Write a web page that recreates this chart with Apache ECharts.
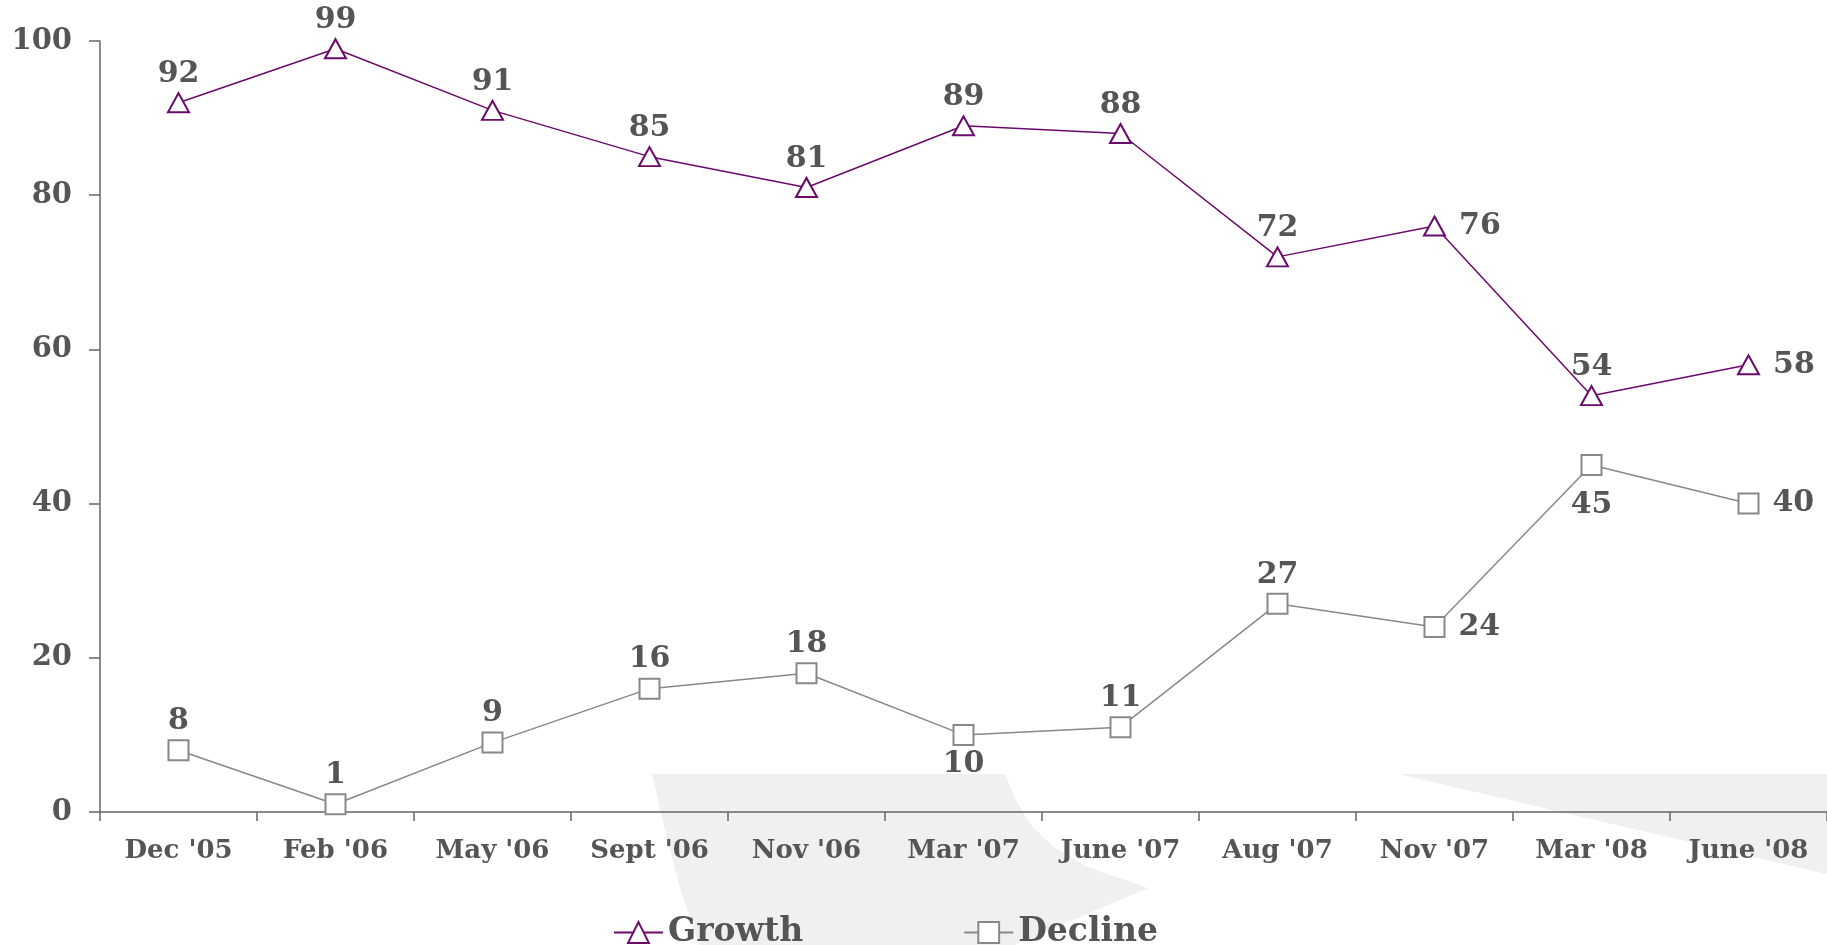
<!DOCTYPE html>
<html>
<head>
<meta charset="utf-8">
<script src="https://cdn.jsdelivr.net/npm/echarts@6/dist/echarts.min.js"></script>
<style>
  html, body { margin: 0; padding: 0; background: #fff; }
  #chart { width: 1827px; height: 945px; }
</style>
</head>
<body>
<div id="chart"></div>
<script>
// data
var categories = ["Dec '05", "Feb '06", "May '06", "Sept '06", "Nov '06", "Mar '07",
  "June '07", "Aug '07", "Nov '07", "Mar '08", "June '08"];
var growth = [92, 99, 91, 85, 81, 89, 88, 72, 76, 54, 58];
var decline = [8, 1, 9, 16, 18, 10, 11, 27, 24, 45, 40];
// where each value label sits
var growthLabelPos = ['top', 'top', 'top', 'top', 'top', 'top', 'top', 'top', 'right', 'top', 'right'];
var declineLabelPos = ['top', 'top', 'top', 'top', 'top', 'bottom', 'top', 'top', 'right', 'bottom', 'right'];
var yTicks = [0, 20, 40, 60, 80, 100];

var FONT = '"DejaVu Serif", "Liberation Serif", serif';
var TEXT = '#555555';

function withLabels(values, positions) {
  return values.map(function (v, i) {
    var pos = positions[i];
    var dist = pos === 'right' ? 13 : 3;
    // the last "below" label sits a little lower in the original
    if (pos === 'bottom' && i > 5) dist = 14;
    return { value: v, label: { position: pos, distance: dist } };
  });
}

var chartDom = document.getElementById('chart');
var myChart = echarts.init(chartDom);

var option = {
  animation: false,
  backgroundColor: '#ffffff',
  textStyle: { fontFamily: FONT },
  // light grey watermark shapes behind the plot
  graphic: [
    {
      type: 'polygon',
      z: -1,
      silent: true,
      shape: {
        points: [[652, 774], [1005, 774], [1016, 800], [1030, 824], [1052, 846],
          [1085, 866], [1148, 888], [1015, 945], [699, 945], [680, 888], [665, 830]]
      },
      style: { fill: '#f0f0f0' }
    },
    {
      type: 'polygon',
      z: -1,
      silent: true,
      shape: { points: [[1398, 774], [1827, 774], [1827, 874]] },
      style: { fill: '#f0f0f0' }
    }
  ],
  grid: {
    left: 100,
    right: 0,
    top: 41,
    bottom: 133,
    containLabel: false,
    outerBoundsMode: 'none'
  },
  legend: {
    left: 608,
    top: 911,
    itemGap: 160,
    itemWidth: 49,
    itemHeight: 26,
    textStyle: { fontFamily: FONT, fontSize: 33, fontWeight: 'bold', color: TEXT },
    data: ['Growth', 'Decline']
  },
  xAxis: {
    type: 'category',
    data: categories,
    boundaryGap: true,
    axisLine: { lineStyle: { color: '#666666', width: 1.5 } },
    axisTick: { show: true, length: 9, alignWithLabel: false, lineStyle: { color: '#666666', width: 1.5 } },
    axisLabel: {
      interval: 0,
      margin: 26,
      fontFamily: FONT,
      fontSize: 26,
      fontWeight: 'bold',
      color: TEXT
    },
    splitLine: { show: false }
  },
  yAxis: {
    type: 'value',
    min: yTicks[0],
    max: yTicks[yTicks.length - 1],
    interval: 20,
    axisLine: { show: true, lineStyle: { color: '#666666', width: 1.5 } },
    axisTick: { show: true, length: 11, lineStyle: { color: '#666666', width: 1.5 } },
    axisLabel: {
      margin: 28,
      fontFamily: FONT,
      fontSize: 29,
      fontWeight: 'bold',
      color: TEXT
    },
    splitLine: { show: false }
  },
  series: [
    {
      name: 'Growth',
      type: 'line',
      data: withLabels(growth, growthLabelPos),
      symbol: 'emptyTriangle',
      symbolSize: [21, 19],
      lineStyle: { color: '#6b0a6b', width: 1.5 },
      itemStyle: { color: '#6b0a6b', borderWidth: 1.5 },
      label: {
        show: true,
        fontFamily: FONT,
        fontSize: 30,
        fontWeight: 'bold',
        color: TEXT
      },
      z: 3
    },
    {
      name: 'Decline',
      type: 'line',
      data: withLabels(decline, declineLabelPos),
      symbol: 'emptyRect',
      symbolSize: 20,
      lineStyle: { color: '#888888', width: 1.5 },
      itemStyle: { color: '#888888', borderWidth: 1.5 },
      label: {
        show: true,
        fontFamily: FONT,
        fontSize: 30,
        fontWeight: 'bold',
        color: TEXT
      },
      z: 3
    }
  ]
};

option && myChart.setOption(option);
</script>
</body>
</html>
